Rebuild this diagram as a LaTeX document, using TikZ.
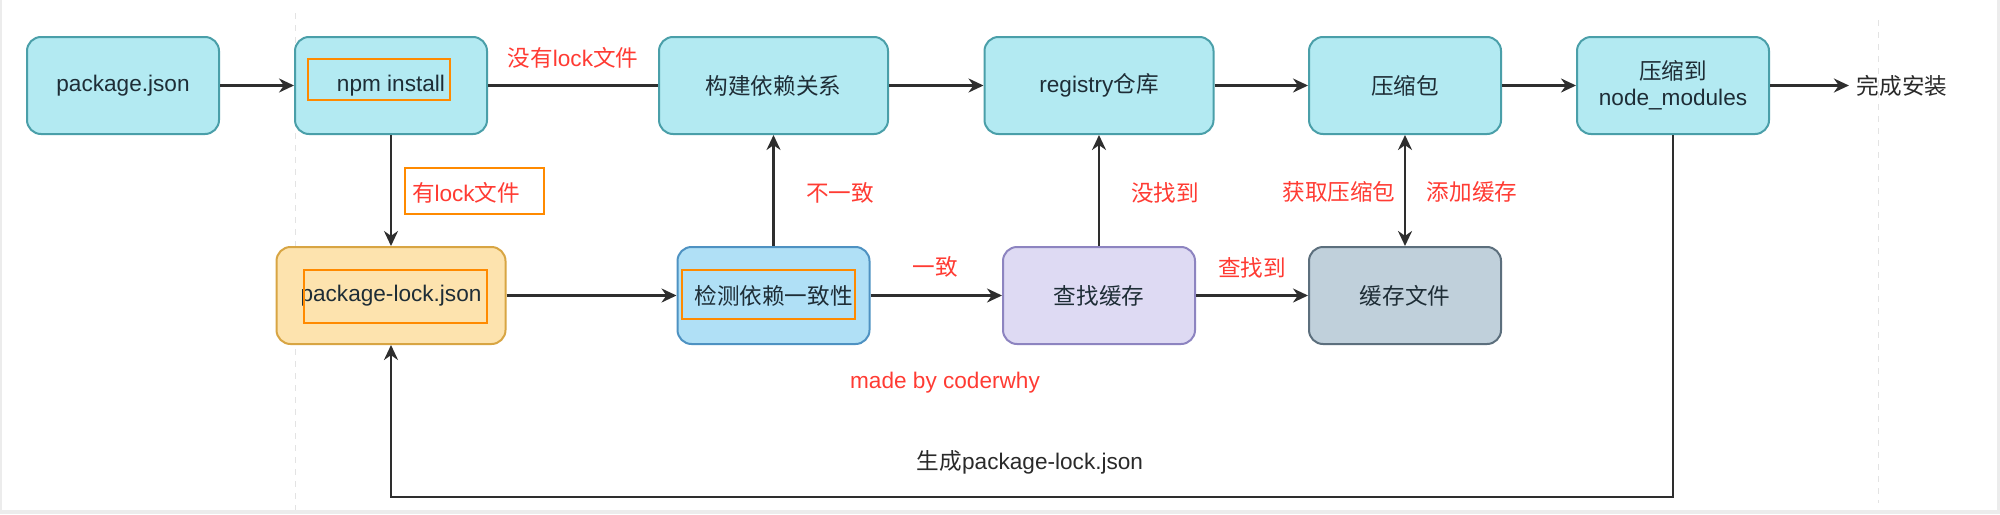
\documentclass[tikz,border=0pt]{standalone}
\usepackage{fontspec}
\setmainfont{Liberation Sans}
\newfontfamily\zhfont{Noto Sans CJK SC}
\newcommand{\zh}[1]{{\zhfont #1}}
\usetikzlibrary{arrows.meta, positioning, calc}
\usepackage{xcolor}
\definecolor{tealfill}{HTML}{B3EAF2}
\definecolor{tealline}{HTML}{4A9FA9}
\definecolor{lockfill}{HTML}{FDE3AE}
\definecolor{lockline}{HTML}{D8A543}
\definecolor{checkfill}{HTML}{B0E0F6}
\definecolor{checkline}{HTML}{4E92C2}
\definecolor{findfill}{HTML}{DEDAF3}
\definecolor{findline}{HTML}{8D84C0}
\definecolor{cachefill}{HTML}{C0D0DB}
\definecolor{cacheline}{HTML}{5C6F7D}
\definecolor{hiorange}{HTML}{FF8A00}
\definecolor{labelred}{HTML}{FF3B33}
\definecolor{boxtext}{HTML}{1E2D36}
\definecolor{darktext}{HTML}{2A2A2A}
\definecolor{linegray}{HTML}{2E2E2E}
\definecolor{framegray}{HTML}{ECECEC}

\tikzset{
  box/.style={draw=tealline, fill=tealfill, line width=1pt, rounded corners=7pt,
    minimum width=96pt, minimum height=48.5pt, align=center, text=boxtext, inner sep=0pt},
  widebox/.style={box, minimum width=114.5pt},
  lockbox/.style={draw=lockline, fill=lockfill},
  checkbox/.style={draw=checkline, fill=checkfill},
  findbox/.style={draw=findline, fill=findfill},
  cachebox/.style={draw=cacheline, fill=cachefill},
  redlabel/.style={text=labelred},
  hilite/.style={draw=hiorange, line width=1pt},
  link/.style={draw=linegray, line width=1.2pt},
  guide/.style={draw=gray!22, line width=0.5pt, dash pattern=on 3pt off 3pt}
}

\begin{document}
\begin{tikzpicture}[x=0.5pt, y=-0.5pt, >={Stealth[length=7.5pt,width=7pt]}]
\fontsize{11.3}{13}\selectfont
\useasboundingbox (0,0) rectangle (2000,514);
\fill[framegray] (0,0) rectangle (2000,514);
\fill[white] (2,0) rectangle (1997,510);
\draw[guide] (295,13) -- (295,510);
\draw[guide] (1878,20) -- (1878,503);

% top row
\node[box]     at (123, 85.5)  (pkg)  {package.json};
\node[box]     at (391, 85.5)  (npm)  {npm install};
\node[widebox] at (773.5, 85.5) (deps) {\zh{构建依赖关系}};
\node[widebox] at (1099, 85.5) (reg)  {registry\zh{仓库}};
\node[box]     at (1405, 85.5) (tgz)  {\zh{压缩包}};
\node[box]     at (1673, 85.5) (nm)   {\zh{压缩到}\\node\_modules};
\node[text=darktext] at (1902, 85.5) (done) {\zh{完成安装}};

% bottom row
\node[widebox, lockbox]  at (391, 295.5)   (lock)  {package-lock.json};
\node[box, checkbox]     at (773.5, 295.5) (check) {\zh{检测依赖一致性}};
\node[box, findbox]      at (1099, 295.5)  (find)  {\zh{查找缓存}};
\node[box, cachebox]     at (1405, 295.5)  (cache) {\zh{缓存文件}};

% orange marks
\draw[hilite] (308,59) rectangle (450,100);
\draw[hilite] (304,270) rectangle (487,323);
\draw[hilite] (682,270) rectangle (855,319);
\draw[hilite, fill=white] (405,168) rectangle (544,214);

% connectors
\draw[link, ->] (pkg) -- (npm);
\draw[link] (npm) -- (deps);
\draw[link, ->] (deps) -- (reg);
\draw[link, ->] (reg) -- (tgz);
\draw[link, ->] (tgz) -- (nm);
\draw[link, ->] (nm) -- (done);
\draw[link, ->] (npm) -- (lock);
\draw[link, ->] (lock) -- (check);
\draw[link, ->] (check) -- (deps);
\draw[link, ->] (check) -- (find);
\draw[link, ->] (find) -- (reg);
\draw[link, ->] (find) -- (cache);
\draw[link, <->] (tgz) -- (cache);
\coordinate (turn) at (1000, 497);
\draw[link, ->] (nm.south) |- (turn) -| (lock.south);

% labels
\node[redlabel] at (573, 58)   (nolock)  {\zh{没有}lock\zh{文件}};
\node[redlabel] at (466, 193)  (haslock) {\zh{有}lock\zh{文件}};
\node[redlabel] at (840, 193)  (diff)    {\zh{不一致}};
\node[redlabel] at (935, 267)  (same)    {\zh{一致}};
\node[redlabel] at (1165, 193) (miss)    {\zh{没找到}};
\node[redlabel] at (1252, 268) (hit)     {\zh{查找到}};
\node[redlabel] at (1339, 192) (fetch)   {\zh{获取压缩包}};
\node[redlabel] at (1472, 192) (store)   {\zh{添加缓存}};
\node[redlabel] at (945, 383)  (credit)  {made by coderwhy};
\node[text=darktext] at (1030, 462) (gen) {\zh{生成}package-lock.json};
\end{tikzpicture}
\end{document}
